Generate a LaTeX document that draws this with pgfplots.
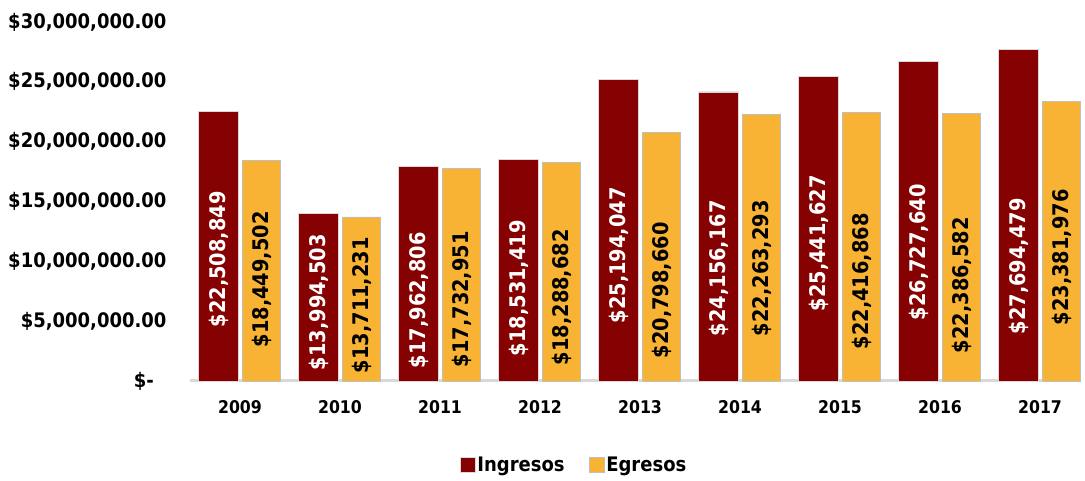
\documentclass[border=0pt]{standalone}
\usepackage{fontspec}
\setmainfont{DejaVu Sans}
\newfontfamily\cond{DejaVu Sans Condensed}
\usepackage{pgfplots}
\usepackage{pgfplotstable}
\pgfplotsset{compat=1.18}
\definecolor{ired}{RGB}{134,2,2}
\definecolor{egold}{RGB}{248,179,52}
\definecolor{axgray}{RGB}{217,217,217}
\pgfplotstableread{
x ing egr ily egy il el
0 22508849 18449502 10170000 8500000 22,508,849 18,449,502
1 13994503 13711231 6580000 6330000 13,994,503 13,711,231
2 17962806 17732951 6750000 6830000 17,962,806 17,732,951
3 18531419 18288682 7750000 7000000 18,531,419 18,288,682
4 25194047 20798660 10500000 7580000 25,194,047 20,798,660
5 24156167 22263293 9420000 9420000 24,156,167 22,263,293
6 25441627 22416868 11500000 8330000 25,441,627 22,416,868
7 26727640 22386582 10750000 8000000 26,727,640 22,386,582
8 27694479 23381976 9580000 10330000 27,694,479 23,381,976
}\datatable
\begin{document}
\begin{tikzpicture}
\begin{axis}[
  scale only axis,
  width=885pt, height=359pt,
  xmin=-0.5, xmax=8.35,
  ymin=0, ymax=30000000,
  axis x line*=bottom, axis y line*=left,
  x axis line style={draw=axgray, line width=3pt, -},
  y axis line style={draw=none},
  major tick length=0pt,
  scaled y ticks=false,
  xtick={0,...,8},
  xticklabels={2009,2010,2011,2012,2013,2014,2015,2016,2017},
  xticklabel style={font=\cond\bfseries\fontsize{17.5}{19}\selectfont, yshift=-16pt},
  ytick={0,5000000,10000000,15000000,20000000,25000000,30000000},
  yticklabels={{\$-\hphantom{0}},{\$5,000,000.00},{\$10,000,000.00},{\$15,000,000.00},{\$20,000,000.00},{\$25,000,000.00},{\$30,000,000.00}},
  yticklabel style={font=\cond\bfseries\fontsize{20}{22}\selectfont, xshift=-20pt},
  legend style={at={(0.434,-0.234)}, anchor=center, draw=none, fill=none,
    legend columns=2, font=\cond\bfseries\fontsize{20}{22}\selectfont,
    /tikz/every even column/.append style={column sep=22pt}},
  legend image code/.code={\fill[#1] (0pt,-7pt) rectangle (15pt,8pt);},
  clip=false,
]
\addplot[ybar, bar width=40pt, bar shift=-21.5pt, draw=white!85!black, line width=0.6pt,
  fill=ired] table[x=x, y=ing] {\datatable};
\addlegendentry{Ingresos}
\addplot[ybar, bar width=38pt, bar shift=21.5pt, draw=white!75!black, line width=0.6pt,
  fill=egold] table[x=x, y=egr] {\datatable};
\addlegendentry{Egresos}
\addplot[only marks, mark=none, forget plot, point meta=explicit symbolic,
  nodes near coords={\$\pgfplotspointmeta},
  nodes near coords style={anchor=center, rotate=90, text=white, font=\cond\bfseries\fontsize{21.5}{23}\selectfont}]
  table[x expr=\thisrow{x}-0.215, y=ily, meta=il] {\datatable};
\addplot[only marks, mark=none, forget plot, point meta=explicit symbolic,
  nodes near coords={\$\pgfplotspointmeta},
  nodes near coords style={anchor=center, rotate=90, text=black, font=\cond\bfseries\fontsize{21.5}{23}\selectfont}]
  table[x expr=\thisrow{x}+0.215, y=egy, meta=el] {\datatable};
\end{axis}
\pgfresetboundingbox
\path (current axis.south west) ++(-190pt,-100pt) rectangle ++(1085pt,481pt);
\end{tikzpicture}
\end{document}
